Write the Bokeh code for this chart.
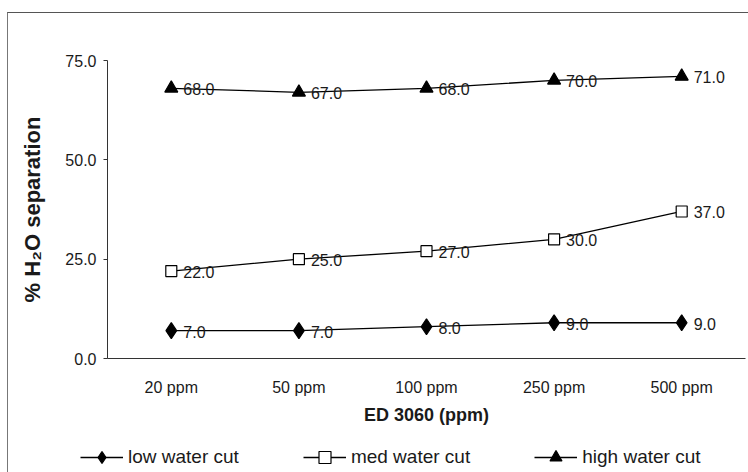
from bokeh.plotting import figure
from bokeh.layouts import column
from bokeh.models import (FactorRange, Range1d, FixedTicker, Legend, LegendItem,
                          ColumnDataSource, PrintfTickFormatter)
from bokeh.core.properties import value
from bokeh.embed import file_html
from bokeh.resources import INLINE

# ED 3060 dosage levels and % water separation per water-cut level
doses = ["20 ppm", "50 ppm", "100 ppm", "250 ppm", "500 ppm"]
low_cut = [7.0, 7.0, 8.0, 9.0, 9.0]
med_cut = [22.0, 25.0, 27.0, 30.0, 37.0]
high_cut = [68.0, 67.0, 68.0, 70.0, 71.0]
y_ticks = [0, 25, 50, 75]
series_names = ["low water cut", "med water cut", "high water cut"]

FONT = "Liberation Sans"
INK = "#1a1a1a"

p = figure(
    width=740, height=427,
    x_range=FactorRange(*doses, range_padding=0),
    y_range=Range1d(0, 75),
    output_backend="svg", toolbar_location=None,
    min_border_left=99, min_border_right=3,
    min_border_top=47, min_border_bottom=82,
    background_fill_color="white", border_fill_color="white",
)
p.outline_line_color = None
p.grid.grid_line_color = None
p.x_range.factor_padding = 0

# y axis
p.yaxis.ticker = FixedTicker(ticks=y_ticks)
p.yaxis.formatter = PrintfTickFormatter(format="%.1f")
p.yaxis.minor_tick_line_color = None
p.yaxis.major_tick_out = 4
p.yaxis.major_tick_in = 0
p.yaxis.axis_line_color = "#333"
p.yaxis.major_tick_line_color = "#333"
p.yaxis.major_label_text_font = FONT
p.yaxis.major_label_text_font_size = "16px"
p.yaxis.major_label_text_color = INK
p.yaxis.major_label_standoff = 7
p.yaxis.axis_label = "% H\u2082O separation"
p.yaxis.axis_label_text_font = FONT
p.yaxis.axis_label_text_font_style = "bold"
p.yaxis.axis_label_text_font_size = "22px"
p.yaxis.axis_label_text_color = INK
p.yaxis.axis_label_standoff = 17

# x axis
p.xaxis.axis_line_color = "#333"
p.xaxis.major_tick_line_color = None
p.xaxis.major_tick_out = 0
p.xaxis.major_tick_in = 0
p.xaxis.minor_tick_line_color = None
p.xaxis.major_label_text_font = FONT
p.xaxis.major_label_text_font_size = "16px"
p.xaxis.major_label_text_color = INK
p.xaxis.major_label_standoff = 20
p.xaxis.axis_label = "ED 3060 (ppm)"
p.xaxis.axis_label_text_font = FONT
p.xaxis.axis_label_text_font_style = "bold"
p.xaxis.axis_label_text_font_size = "18px"
p.xaxis.axis_label_text_color = INK
p.xaxis.axis_label_standoff = 6

styles = [
    ("diamond", "black", 16),
    ("square", "white", 11),
    ("triangle", "black", 13),
]
values = [low_cut, med_cut, high_cut]

# second strip that carries only the legend row
leg = figure(
    width=740, height=32,
    x_range=FactorRange(*doses), y_range=Range1d(-20, -10),
    x_axis_location=None, y_axis_location=None,
    output_backend="svg", toolbar_location=None,
    min_border_left=0, min_border_right=0, min_border_top=0, min_border_bottom=0,
    background_fill_color="white", border_fill_color="white",
)
leg.grid.grid_line_color = None
leg.outline_line_color = None

# keep the strip's frame independent of the chart's frame
legend_x = 72
if "frame_align" in leg.properties():
    leg.frame_align = False
    p.frame_align = False
else:
    legend_x = 72 - 99

items = []
for name, vals, (marker, fill, size) in zip(series_names, values, styles):
    src = ColumnDataSource(dict(x=doses, y=vals, lbl=[f"{v:.1f}" for v in vals]))
    p.line("x", "y", source=src, line_color="black", line_width=1.3)
    p.scatter("x", "y", source=src, marker=marker, size=size,
              fill_color=fill, line_color="black", line_width=1.2)
    p.text("x", "y", text="lbl", source=src, x_offset=12, y_offset=1,
           text_font=value(FONT), text_font_size="16px", text_color=INK,
           text_baseline="middle", text_align="left")
    # same series in the legend strip (outside its visible range)
    ln = leg.line("x", "y", source=src, line_color="black", line_width=1.3)
    sc = leg.scatter("x", "y", source=src, marker=marker, size=size,
                     fill_color=fill, line_color="black", line_width=1.2)
    items.append(LegendItem(label=name, renderers=[ln, sc]))

legend = Legend(items=items, orientation="horizontal", location=(legend_x, 0),
                label_text_font=FONT, label_text_font_size="19px",
                label_text_color=INK, glyph_width=43, glyph_height=30,
                spacing=64, padding=0, margin=0, label_standoff=5,
                border_line_color=None, background_fill_alpha=0)
leg.add_layout(legend)

layout = column(p, leg, spacing=0, styles={
    "margin-left": "7px", "margin-top": "12px",
    "border-top": "1px solid #555", "border-left": "1px solid #777",
})

html = file_html(layout, INLINE)
open("out.html", "w").write(html)
